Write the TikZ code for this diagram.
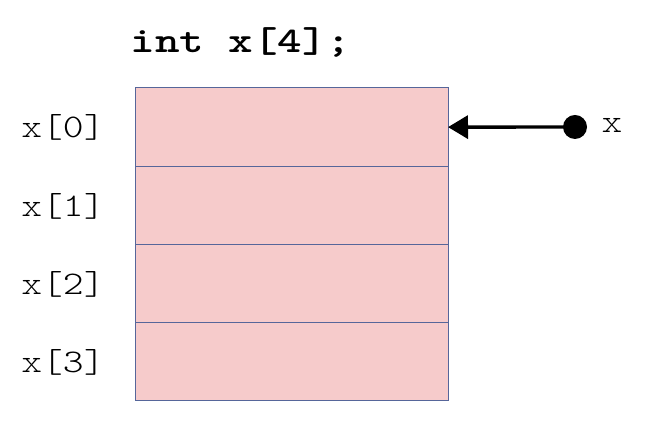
\documentclass[tikz,border=0pt]{standalone}
\usepackage{fontspec}
\newfontfamily\courfont[FakeStretch=1.2]{lmmonolt10-regular.otf}
\newfontfamily\courbold[FakeStretch=1.3]{lmmonolt10-bold.otf}
\usetikzlibrary{arrows.meta}
\definecolor{cellfill}{HTML}{F6CBCB}
\definecolor{cellline}{HTML}{56669A}
\tikzset{
  cell/.style={draw=cellline, fill=cellfill, line width=1pt, minimum width=313pt, minimum height=78.25pt, inner sep=0pt, outer sep=0pt, anchor=north west},
  lbl/.style={font=\courfont\fontsize{33}{33}\selectfont, inner sep=0pt},
  ptr/.style={line width=3.4pt, -{Triangle[length=20pt,width=23pt]}},
}
\begin{document}
\begin{tikzpicture}[x=1pt,y=1pt]
\useasboundingbox (0,0) rectangle (646,438);
\node[font=\courbold\fontsize{36}{36}\selectfont, inner sep=0pt] (title) at (241,396) {int x[4];};
\node[cell] (c0) at (135,350) {};
\node[cell] (c1) at (135,271.75) {};
\node[cell] (c2) at (135,193.5) {};
\node[cell] (c3) at (135,115.25) {};
\node[lbl] (l0) at (63,311) {x[0]};
\node[lbl] (l1) at (63,232) {x[1]};
\node[lbl] (l2) at (63,154) {x[2]};
\node[lbl] (l3) at (63,76) {x[3]};
\node[circle, fill=black, minimum size=24pt, inner sep=0pt] (dot) at (575,311) {};
\node[lbl] (xl) at (612,313) {x};
\draw[ptr] (dot.center) -- (c0.east);
\end{tikzpicture}
\end{document}
